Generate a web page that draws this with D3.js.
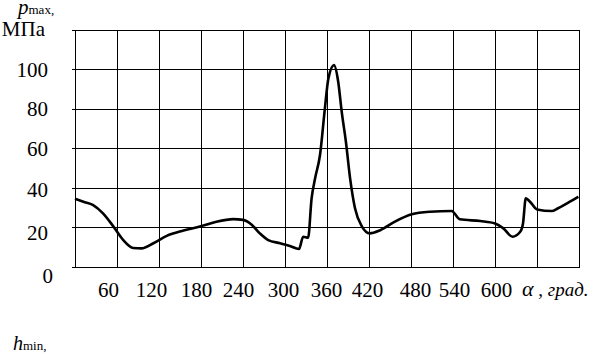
<!DOCTYPE html>
<html>
<head>
<meta charset="utf-8">
<script src="https://cdn.jsdelivr.net/npm/d3@7"></script>
<style>
  body { margin: 0; background: #fff; }
  svg text { font-family: 'Liberation Serif'; }
</style>
</head>
<body>
<div class="chart"></div>
<script>
// data: crank angle (deg) vs p max (MPa)
const angles = [0, 12, 26, 40, 55, 69, 83, 95, 112, 131, 155, 181, 202, 226, 240, 252, 264, 276, 293, 307, 320, 326, 333, 338, 343, 350, 357, 362, 370, 376, 381, 387, 393, 400, 410, 421, 436, 457, 481, 507, 538, 550, 579, 600, 612, 625, 636, 640, 644, 650, 660, 681, 690, 707, 719]
const pmax = [34.5, 33, 31.3, 27.1, 20.4, 13.6, 9.6, 9.4, 12, 15.7, 18.4, 20.7, 22.9, 24.2, 23.8, 21.5, 17, 13.6, 12, 10.6, 9.1, 15.3, 14.8, 34.7, 44.8, 56.6, 80.2, 95.3, 102, 93.6, 78.5, 63.3, 44.8, 29.7, 20.4, 17, 18.6, 22.9, 26.6, 27.9, 28.3, 24.1, 23.2, 22, 19.5, 15.3, 17.8, 22, 34.7, 33, 29.1, 28.3, 29.7, 33, 35.5]

const xTicks = [60, 120, 180, 240, 300, 360, 420, 480, 540, 600]
const yTicks = [0, 20, 40, 60, 80, 100]
const xGrid = d3.range(0, 721, 60)
const yGrid = d3.range(0, 121, 20)

const canvasWidth = 602
const canvasHeight = 359
const plotLeft = 75, plotRight = 579, plotTop = 29.5, plotBottom = 267
const fontCss = size => `font-family:'Liberation Serif';font-size:${size}px`

// small hand nudges of the labels, as in the source figure
const xNudge = { 60: -9, 120: -8, 180: -5, 240: -5, 300: -2, 360: -1, 420: -2, 480: 4, 540: 1, 600: 1 }
const yNudge = { 0: [5, 8], 20: [0, 5], 40: [0, 2] }

const xScale = d3.scaleLinear().domain([0, 720]).range([plotLeft, plotRight])
const yScale = d3.scaleLinear().domain([0, 120]).range([plotBottom, plotTop])

const svg = d3.select('.chart')
    .append('svg')
    .attr('width', canvasWidth)
    .attr('height', canvasHeight)

svg.append('rect').attr('width', canvasWidth).attr('height', canvasHeight).attr('fill', '#fff')

// grid
const grid = svg.append('g')
    .attr('stroke', '#000')
    .attr('stroke-width', 1)
    .attr('shape-rendering', 'crispEdges')

grid.selectAll('.hline')
    .data(yGrid)
    .enter()
    .append('line')
    .attr('x1', plotLeft - 3)
    .attr('x2', plotRight)
    .attr('y1', d => Math.round(yScale(d)) + 0.5)
    .attr('y2', d => Math.round(yScale(d)) + 0.5)

grid.selectAll('.vline')
    .data(xGrid)
    .enter()
    .append('line')
    .attr('y1', plotTop)
    .attr('y2', plotBottom + 0.5)
    .attr('x1', d => Math.round(xScale(d)) + 0.5)
    .attr('x2', d => Math.round(xScale(d)) + 0.5)

// axes labels
const xAxis = d3.axisBottom(xScale).tickValues(xTicks).tickSize(0).tickPadding(0)
const yAxis = d3.axisLeft(yScale).tickValues(yTicks).tickSize(0).tickPadding(0)

const gx = svg.append('g')
    .attr('transform', `translate(0, ${plotBottom})`)
    .call(xAxis)
    .attr('font-family', null)
    .attr('font-size', null)
gx.select('.domain').remove()
gx.selectAll('text')
    .attr('style', fontCss(21))
    .attr('fill', '#000')
    .attr('dy', 0)
    .attr('y', 30)
    .attr('dx', d => xNudge[d] || 0)

const gy = svg.append('g')
    .attr('transform', `translate(48, 0)`)
    .call(yAxis)
    .attr('font-family', null)
    .attr('font-size', null)
gy.select('.domain').remove()
gy.selectAll('text')
    .attr('style', fontCss(21))
    .attr('fill', '#000')
    .attr('dy', d => 7 + (yNudge[d] ? yNudge[d][1] : 0))
    .attr('dx', d => (yNudge[d] ? yNudge[d][0] : 0))

// units
svg.append('text')
    .attr('x', 45)
    .attr('y', 36)
    .attr('text-anchor', 'end')
    .attr('style', fontCss(21))
    .text('МПа')

const pLabel = svg.append('text')
    .attr('x', 18)
    .attr('y', 14)
    .attr('style', fontCss(21))
pLabel.append('tspan').attr('font-style', 'italic').text('p')
pLabel.append('tspan').attr('font-size', 13).text('max,')

const aLabel = svg.append('text')
    .attr('x', 522)
    .attr('y', 296)
    .attr('style', fontCss(22))
aLabel.append('tspan').attr('font-style', 'italic').text('α')
aLabel.append('tspan').attr('font-size', 19).attr('font-style', 'italic').text(' , град.')

const hLabel = svg.append('text')
    .attr('x', 13)
    .attr('y', 350)
    .attr('style', fontCss(20))
hLabel.append('tspan').attr('font-style', 'italic').text('h')
hLabel.append('tspan').attr('font-size', 13).text('min,')

// curve
const points = angles.map((a, i) => [a, pmax[i]])
const line = d3.line()
    .x(d => xScale(d[0]))
    .y(d => yScale(d[1]))
    .curve(d3.curveMonotoneX)

svg.append('path')
    .datum(points)
    .attr('d', line)
    .attr('fill', 'none')
    .attr('stroke', '#000')
    .attr('stroke-width', 2.6)
    .attr('stroke-linejoin', 'round')
</script>
</body>
</html>
